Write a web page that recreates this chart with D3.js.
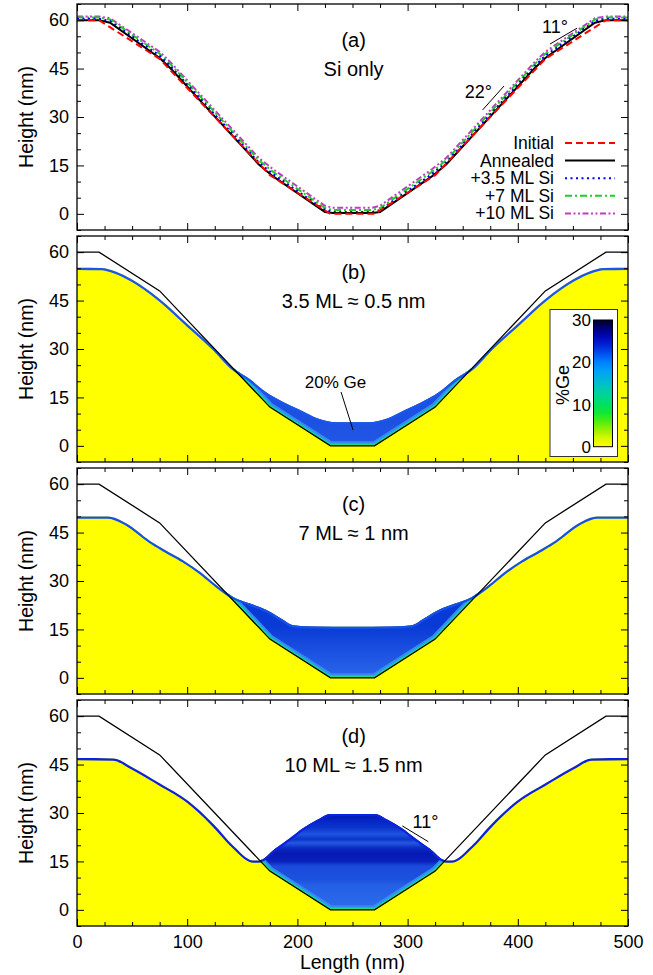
<!DOCTYPE html>
<html><head><meta charset="utf-8">
<script src="https://cdn.jsdelivr.net/npm/d3@7"></script>
<style>
body{margin:0;background:#fff}
svg{display:block}
text{font-family:"Liberation Sans",Arial,Helvetica,sans-serif;fill:#000}
</style>
</head><body>
<svg id="chart" width="653" height="975"></svg>
<script>
// ---------------- DATA ----------------
const xMajorTicks = [0, 100, 200, 300, 400, 500];
const xMinorTicks = [25, 50, 75, 125, 150, 175, 225, 250, 275, 325, 350, 375, 425, 450, 475];
const yMajorTicks = [0, 15, 30, 45, 60];
const yMinorTicks = [-5, 5, 10, 20, 25, 35, 40, 50, 55, 65];
const cbTicks = [0, 10, 20, 30];

// panel (a) profiles
const initialX = [0, 20, 75, 175, 230, 270, 325, 425, 480, 500];
const initialH = [60, 60, 48, 12, 0, 0, 12, 48, 60, 60];
const annealedX = [0, 20, 30, 75, 85, 165, 178, 225, 232, 268, 275, 322, 335, 415, 425, 470, 480, 500];
const annealedH = [60, 60, 59.2, 48.3, 45, 15.3, 11.6, 0.6, 0.3, 0.3, 0.6, 11.6, 15.3, 45, 48.3, 59.2, 60, 60];
const si35H = [60.4, 60.4, 59.7, 49.0, 45.7, 15.9, 12.3, 1.2, 0.6, 0.6, 1.2, 12.3, 15.9, 45.7, 49.0, 59.7, 60.4, 60.4];
const si7H  = [60.8, 60.8, 60.2, 49.6, 46.3, 16.6, 13.0, 1.8, 1.2, 1.2, 1.8, 13.0, 16.6, 46.3, 49.6, 60.2, 60.8, 60.8];
const si10H = [61.1, 61.1, 60.6, 50.2, 46.9, 17.3, 13.8, 2.5, 1.9, 1.9, 2.5, 13.8, 17.3, 46.9, 50.2, 60.6, 61.1, 61.1];
const legendLabels = ["Initial", "Annealed", "+3.5 ML Si", "+7 ML Si", "+10 ML Si"];

// panels (b)-(d): Ge interface = initial profile; surfaces
const surfBX = [0, 22, 35, 50, 75, 100, 125, 142, 157, 172, 187, 202, 220, 235, 265, 280, 298, 313, 328, 343, 358, 375, 400, 425, 450, 465, 478, 500];
const surfBH = [55.2, 55.1, 54, 51.5, 45.5, 37.8, 30, 24, 20.6, 16.5, 13.6, 11.2, 8.3, 7.3, 7.3, 8.3, 11.2, 13.6, 16.5, 20.6, 24, 30, 37.8, 45.5, 51.5, 54, 55.1, 55.2];
const surfCX = [0, 28, 45, 66, 80, 97, 112, 127, 142, 157, 172, 186, 196, 215, 250, 285, 304, 314, 328, 343, 358, 373, 388, 403, 420, 434, 455, 472, 500];
const surfCH = [50, 50, 47.8, 42.5, 39.6, 36.3, 32.8, 28.6, 25, 23, 21, 18.2, 16.3, 15.9, 15.8, 15.9, 16.3, 18.2, 21, 23, 25, 28.6, 32.8, 36.3, 39.6, 42.5, 47.8, 50, 50];
const surfDX = [0, 33, 50, 75, 101, 124, 142, 160, 165, 180, 193, 205, 218, 230, 270, 282, 295, 307, 320, 335, 340, 358, 376, 399, 425, 450, 467, 500];
const surfDH = [47, 46.9, 44.2, 39.2, 33.7, 26.5, 19.8, 15.3, 15.3, 19, 22.2, 25.3, 27.9, 29.7, 29.7, 27.9, 25.3, 22.2, 19, 15.3, 15.3, 19.8, 26.5, 33.7, 39.2, 44.2, 46.9, 47];

const panelTitles = [["(a)", "Si only"], ["(b)", "3.5 ML \u2248 0.5 nm"], ["(c)", "7 ML \u2248 1 nm"], ["(d)", "10 ML \u2248 1.5 nm"]];

// ---------------- LAYOUT ----------------
const plotL = 77, plotR = 628, panelH = 226;
const panelTops = [4, 236, 468, 700];
const FONT = 18;

const svg = d3.select("#chart");
const defs = svg.append("defs");
const x = d3.scaleLinear().domain([0, 500]).range([plotL, plotR]);
const yFor = i => d3.scaleLinear().domain([-5, 65]).range([panelTops[i] + panelH, panelTops[i]]);
const zip = (a, b) => a.map((v, k) => [v, b[k]]);

function addGradient(id, stops, y1, y2) {
  const g = defs.append("linearGradient").attr("id", id)
    .attr("gradientUnits", "userSpaceOnUse").attr("x1", 0).attr("x2", 0).attr("y1", y1).attr("y2", y2);
  stops.forEach(s => g.append("stop").attr("offset", s[0]).attr("stop-color", s[1]));
}

function drawAxes(g, y, withXLabels) {
  const top = y.range()[1], bot = y.range()[0];
  const fmt = d3.format("d");
  const ax = [
    [d3.axisBottom(x).tickValues(xMajorTicks).tickSize(-7).tickPadding(9).tickFormat(withXLabels ? fmt : ""), `translate(0,${bot})`],
    [d3.axisBottom(x).tickValues(xMinorTicks).tickSize(-4).tickFormat(""), `translate(0,${bot})`],
    [d3.axisTop(x).tickValues(xMajorTicks).tickSize(-7).tickFormat(""), `translate(0,${top})`],
    [d3.axisTop(x).tickValues(xMinorTicks).tickSize(-4).tickFormat(""), `translate(0,${top})`],
    [d3.axisLeft(y).tickValues(yMajorTicks).tickSize(-7).tickPadding(8).tickFormat(fmt), `translate(${plotL},0)`],
    [d3.axisLeft(y).tickValues(yMinorTicks).tickSize(-4).tickFormat(""), `translate(${plotL},0)`],
    [d3.axisRight(y).tickValues(yMajorTicks).tickSize(-7).tickFormat(""), `translate(${plotR},0)`],
    [d3.axisRight(y).tickValues(yMinorTicks).tickSize(-4).tickFormat(""), `translate(${plotR},0)`]
  ];
  ax.forEach(([a, t]) => {
    const s = g.append("g").attr("transform", t).call(a);
    s.select(".domain").remove();
    s.selectAll("line").attr("stroke", "#000").attr("stroke-width", 1);
    s.selectAll("text").attr("font-size", FONT).attr("fill", "#000")
      .style("font-family", '"Liberation Sans",Arial,sans-serif');
  });
  g.append("rect").attr("x", plotL).attr("y", top).attr("width", plotR - plotL).attr("height", bot - top)
    .attr("fill", "none").attr("stroke", "#000").attr("stroke-width", 1.3);
  g.append("text").attr("transform", `translate(33,${(top + bot) / 2}) rotate(-90)`)
    .attr("text-anchor", "middle").attr("font-size", 19.5).text("Height (nm)");
}

function titles(g, y, i) {
  g.append("text").attr("x", x(251)).attr("y", y(51.8)).attr("text-anchor", "middle").attr("font-size", 20).text(panelTitles[i][0]);
  g.append("text").attr("x", x(251)).attr("y", y(42.7)).attr("text-anchor", "middle").attr("font-size", 20).text(panelTitles[i][1]);
}

// ---------------- PANEL (a) ----------------
{
  const i = 0, y = yFor(i);
  const g = svg.append("g");
  defs.append("clipPath").attr("id", "clipA").append("rect")
    .attr("x", plotL).attr("y", panelTops[i]).attr("width", plotR - plotL).attr("height", panelH);
  const line = d3.line().x(d => x(d[0])).y(d => y(d[1]));
  const series = [
    {xs: annealedX, hs: si10H, color: "#c23cc2", dash: "6,2.5,2,2.5,2,2.5"},
    {xs: annealedX, hs: si7H, color: "#1fcc2a", dash: "7,3,2,3"},
    {xs: annealedX, hs: si35H, color: "#0000ff", dash: "2,3.5"},
    {xs: annealedX, hs: annealedH, color: "#000000", dash: null},
    {xs: initialX, hs: initialH, color: "#ff0000", dash: "7,4"}
  ];
  const cg = g.append("g").attr("clip-path", "url(#clipA)");
  series.forEach(s => {
    cg.append("path").attr("d", line(zip(s.xs, s.hs))).attr("fill", "none")
      .attr("stroke", s.color).attr("stroke-width", 2).attr("stroke-dasharray", s.dash);
  });
  // legend (order: Initial, Annealed, 3.5, 7, 10)
  const legOrder = [4, 3, 2, 1, 0];
  legendLabels.forEach((lab, k) => {
    const s = series[legOrder[k]];
    const by = 149 + k * 17.6;
    g.append("text").attr("x", 554).attr("y", by).attr("text-anchor", "end").attr("font-size", 17.5).text(lab);
    g.append("line").attr("x1", 565).attr("x2", 615).attr("y1", by - 6).attr("y2", by - 6)
      .attr("stroke", s.color).attr("stroke-width", 2).attr("stroke-dasharray", s.dash);
  });
  // angle annotations
  g.append("line").attr("x1", x(429.2)).attr("y1", y(52.6)).attr("x2", x(453.7)).attr("y2", y(57.5)).attr("stroke", "#000").attr("stroke-width", 1);
  g.append("text").attr("x", x(433.8)).attr("y", y(56.0)).attr("text-anchor", "middle").attr("font-size", FONT).text("11\u00b0");
  g.append("line").attr("x1", x(368.1)).attr("y1", y(32.2)).attr("x2", x(387.5)).attr("y2", y(39.6)).attr("stroke", "#000").attr("stroke-width", 1);
  g.append("text").attr("x", x(364.2)).attr("y", y(35.8)).attr("text-anchor", "middle").attr("font-size", FONT).text("22\u00b0");
  titles(g, y, i);
  drawAxes(g, y, false);
}

// ---------------- PANELS (b)-(d) ----------------
const filmStyles = [
  null,
  {grad: [["0%", "#1c50e2"], ["100%", "#2258e6"]], top: 8, edge: "#1a56ee"},
  {grad: [["0%", "#0a3ad6"], ["30%", "#1448dc"], ["65%", "#2058e4"], ["100%", "#2a66ea"]], top: 16, edge: "#1450ea"},
  {grad: [["0%", "#0012a8"], ["7%", "#0424c2"], ["15%", "#0a34cc"], ["22%", "#1e54e0"], ["27%", "#0c34ca"], ["31%", "#2458e0"], ["36%", "#0a2cc4"], ["42%", "#0618b2"], ["50%", "#0a22bc"], ["55%", "#1a4cdc"], ["68%", "#1c50de"], ["75%", "#2460e6"], ["92%", "#2a68ea"], ["100%", "#2a70ec"]], top: 30, edge: "#0c22e0"}
];
const surfaces = [null, zip(surfBX, surfBH), zip(surfCX, surfCH), zip(surfDX, surfDH)];
const iface = zip(initialX, initialH);

[1, 2, 3].forEach(i => {
  const y = yFor(i);
  const g = svg.append("g");
  const surf = surfaces[i];
  const st = filmStyles[i];
  const areaUnder = d3.area().curve(d3.curveMonotoneX).x(d => x(d[0])).y0(y(-5)).y1(d => y(d[1]));
  const areaAbove = d3.area().x(d => x(d[0])).y0(y(65)).y1(d => y(d[1]));
  const lineS = d3.line().curve(d3.curveMonotoneX).x(d => x(d[0])).y(d => y(d[1]));
  const lineI = d3.line().x(d => x(d[0])).y(d => y(d[1]));
  defs.append("clipPath").attr("id", "under" + i).append("path").attr("d", areaUnder(surf));
  defs.append("clipPath").attr("id", "above" + i).append("path").attr("d", areaAbove(iface));
  addGradient("film" + i, st.grad, y(st.top), y(0));

  // yellow substrate
  g.append("path").attr("d", areaUnder(surf)).attr("fill", "#ffff00");
  // Ge film
  const g1 = g.append("g").attr("clip-path", `url(#under${i})`);
  const g2 = g1.append("g").attr("clip-path", `url(#above${i})`);
  g2.append("rect").attr("x", plotL).attr("y", y(65)).attr("width", plotR - plotL).attr("height", y(-5) - y(65))
    .attr("fill", `url(#film${i})`);
  [[9, "#3a86f2"], [5.5, "#14b4e0"], [3.5, "#18d6a0"], [2.2, "#30e040"]].forEach(([w, c]) => {
    g2.append("path").attr("d", lineI(iface)).attr("fill", "none").attr("stroke", c).attr("stroke-width", w);
  });
  // thin surface layer
  g1.append("path").attr("d", lineS(surf)).attr("fill", "none").attr("stroke", st.edge).attr("stroke-width", 4.5);
  // interface line
  g.append("path").attr("d", lineI(iface)).attr("fill", "none").attr("stroke", "#000").attr("stroke-width", 1.3);

  titles(g, y, i);

  if (i === 1) {
    // 20% Ge annotation
    g.append("text").attr("x", x(234.6)).attr("y", y(17.9)).attr("text-anchor", "middle").attr("font-size", 17).text("20% Ge");
    g.append("line").attr("x1", x(239.6)).attr("y1", y(16.7)).attr("x2", x(250.5)).attr("y2", y(4.9)).attr("stroke", "#000").attr("stroke-width", 1);
    // colour bar
    const cb = d3.scaleLinear().domain([0, 30]).range([446.7, 320]);
    g.append("rect").attr("x", 550).attr("y", 309.5).attr("width", 67.5).attr("height", 147)
      .attr("fill", "#fff").attr("stroke", "#333").attr("stroke-width", 1);
    const cbStops = [[0, "#ffff00"], [2, "#d8f800"], [4, "#98f000"], [6, "#50ec10"], [8, "#10e834"], [10, "#00e060"], [12, "#00d690"], [14, "#00c8b8"], [16, "#00b4dc"], [18, "#00a0f6"], [20, "#0080ff"], [22, "#0050f0"], [24, "#0024d8"], [26, "#0008b8"], [28, "#000078"], [30, "#000028"]];
    const cg = defs.append("linearGradient").attr("id", "cbar").attr("gradientUnits", "userSpaceOnUse")
      .attr("x1", 0).attr("x2", 0).attr("y1", cb(0)).attr("y2", cb(30));
    cbStops.forEach(s => cg.append("stop").attr("offset", s[0] / 30).attr("stop-color", s[1]));
    g.append("rect").attr("x", 593.5).attr("y", cb(30)).attr("width", 19).attr("height", cb(0) - cb(30))
      .attr("fill", "url(#cbar)").attr("stroke", "#000").attr("stroke-width", 1);
    cbTicks.forEach(t => {
      g.append("text").attr("x", 591).attr("y", cb(t)).attr("dy", "0.36em").attr("text-anchor", "end").attr("font-size", 17).text(t);
    });
    g.append("text").attr("transform", "translate(569,385) rotate(-90)").attr("text-anchor", "middle").attr("font-size", 18).text("%Ge");
  }
  if (i === 3) {
    g.append("text").attr("x", x(316.2)).attr("y", y(25.4)).attr("text-anchor", "middle").attr("font-size", FONT).text("11\u00b0");
    g.append("line").attr("x1", x(295.2)).attr("y1", y(26.0)).attr("x2", x(318.8)).attr("y2", y(21.1)).attr("stroke", "#000").attr("stroke-width", 1);
  }
  drawAxes(g, y, i === 3);
});

svg.append("text").attr("x", (plotL + plotR) / 2).attr("y", 969).attr("text-anchor", "middle").attr("font-size", 19.5).text("Length (nm)");
</script>
</body></html>
